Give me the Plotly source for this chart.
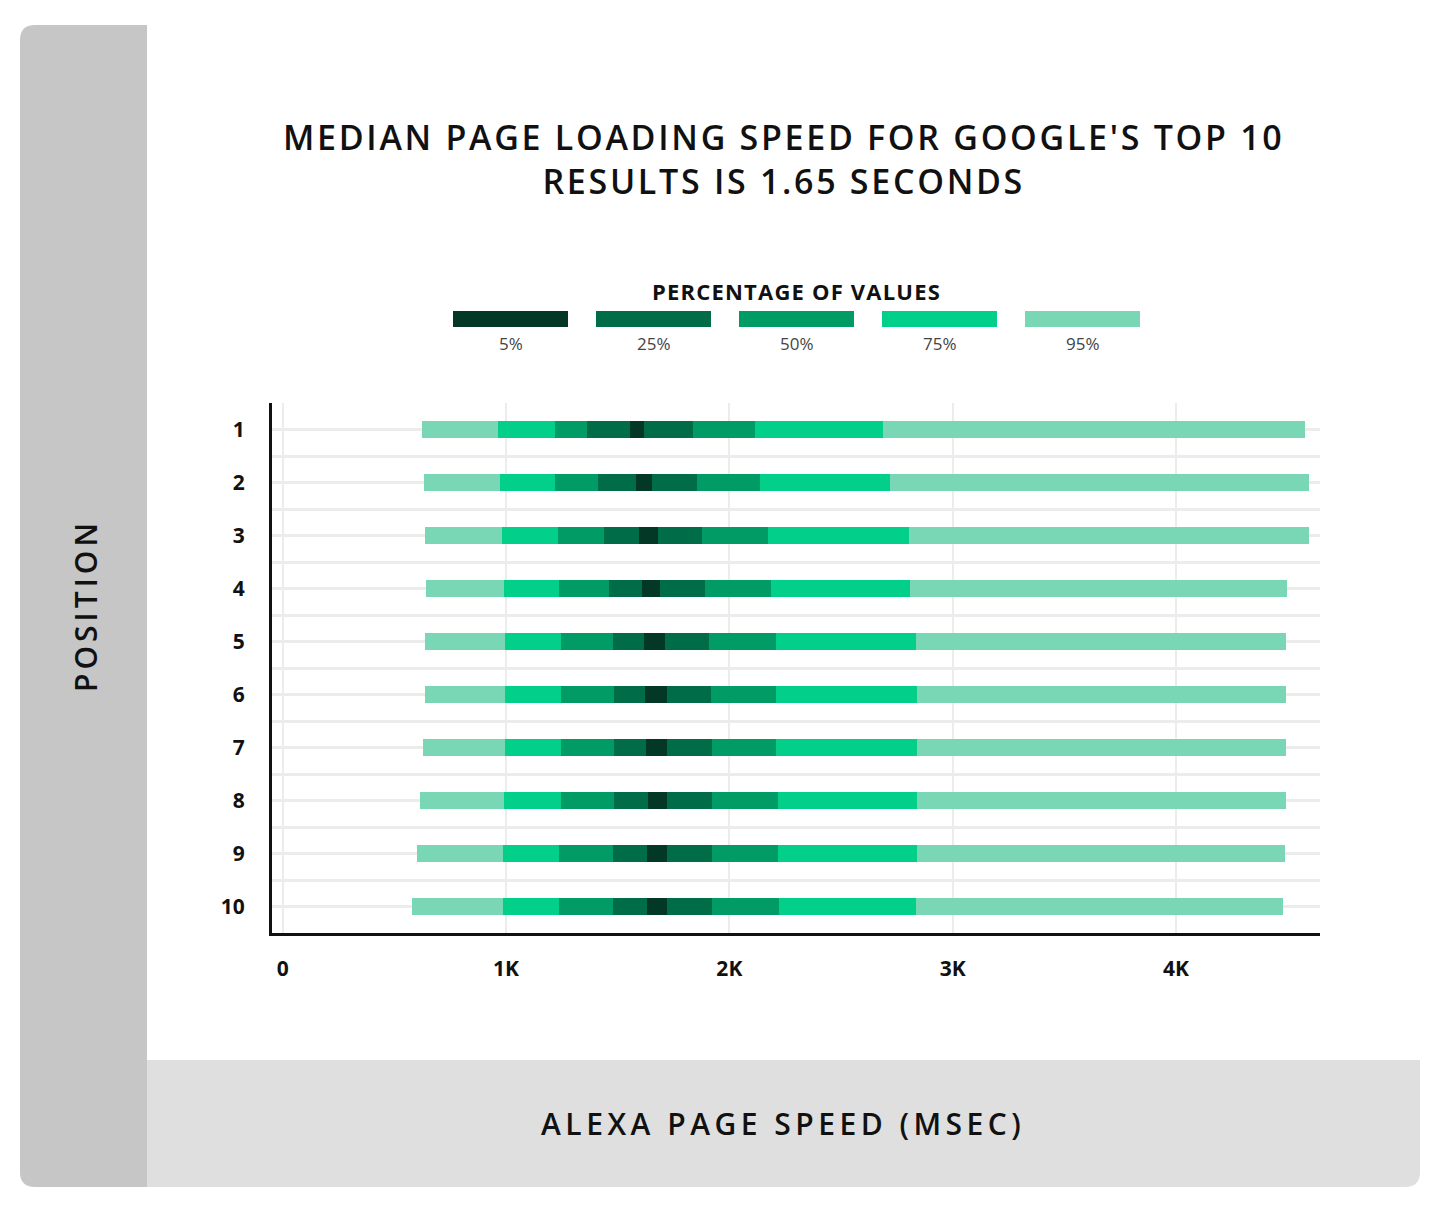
import plotly.graph_objects as go
import numpy as np

# page loading speed percentiles (msec) per Google position
positions = [1, 2, 3, 4, 5, 6, 7, 8, 9, 10]
p95_lo = [625, 633, 639, 642, 639, 636, 630, 615, 603, 580]
p75_lo = [964, 972, 981, 991, 997, 997, 994, 991, 988, 988]
p50_lo = [1218, 1221, 1233, 1236, 1245, 1245, 1245, 1245, 1239, 1236]
p25_lo = [1364, 1412, 1439, 1463, 1481, 1484, 1484, 1484, 1481, 1481]
p5_lo = [1554, 1581, 1594, 1608, 1619, 1624, 1628, 1635, 1631, 1631]
p5_hi = [1618, 1655, 1679, 1691, 1713, 1721, 1722, 1722, 1722, 1722]
p25_hi = [1839, 1854, 1878, 1891, 1909, 1918, 1921, 1921, 1921, 1921]
p50_hi = [2113, 2137, 2175, 2187, 2210, 2210, 2210, 2219, 2219, 2223]
p75_hi = [2688, 2721, 2805, 2809, 2836, 2842, 2842, 2842, 2842, 2836]
p95_hi = [4578, 4596, 4596, 4497, 4493, 4493, 4493, 4492, 4490, 4480]

band_names = ['95%', '75%', '50%', '25%', '5%']
band_colors = ['#7ad7b5', '#02d08a', '#019c66', '#006d48', '#033826']
x_tickvals = [0, 1000, 2000, 3000, 4000]
x_ticktext = ['0', '1K', '2K', '3K', '4K']

OFF = 8  # page body margin
W, H = 1440, 1198
L, R, T, B = 272 - OFF, 1320 - OFF, 403 - OFF, 933 - OFF  # plot area in figure pixels


def px(x):
    # screen pixel -> paper x
    return (x - OFF - L) / (R - L)


def py(y):
    return (B - (y - OFF)) / (B - T)


def spaced(text, sp):
    return f'<span style="letter-spacing:{sp}px">{text}</span>'


fig = go.Figure()

bands = [(p95_lo, p95_hi), (p75_lo, p75_hi), (p50_lo, p50_hi), (p25_lo, p25_hi), (p5_lo, p5_hi)]
for (lo, hi), name, col in zip(bands, band_names, band_colors):
    lo = np.array(lo)
    hi = np.array(hi)
    fig.add_trace(go.Bar(y=positions, x=hi - lo, base=lo, orientation='h', width=0.31,
                         marker=dict(color=col, line=dict(width=0)), name=name, showlegend=False))

# card background panels
shapes = []
r = 15
left_path = (f"M {px(147)},{py(25)} L {px(20 + r)},{py(25)} Q {px(20)},{py(25)} {px(20)},{py(25 + r)} "
             f"L {px(20)},{py(1187 - r)} Q {px(20)},{py(1187)} {px(20 + r)},{py(1187)} L {px(147)},{py(1187)} Z")
shapes.append(dict(type='path', xref='paper', yref='paper', path=left_path,
                   fillcolor='#c6c6c6', line=dict(width=0), layer='below'))
bottom_path = (f"M {px(147)},{py(1060)} L {px(1420)},{py(1060)} L {px(1420)},{py(1187 - r)} "
               f"Q {px(1420)},{py(1187)} {px(1420 - r)},{py(1187)} L {px(147)},{py(1187)} Z")
shapes.append(dict(type='path', xref='paper', yref='paper', path=bottom_path,
                   fillcolor='#dfdfdf', line=dict(width=0), layer='below'))

# legend swatches
annotations = []
leg_x0 = [453, 596, 739, 882, 1025]
for x0, name, col in zip(leg_x0, band_names[::-1], band_colors[::-1]):
    shapes.append(dict(type='rect', xref='paper', yref='paper', x0=px(x0), x1=px(x0 + 115),
                       y0=py(327), y1=py(311), fillcolor=col, line=dict(width=0)))
    annotations.append(dict(text=name, xref='paper', yref='paper', x=px(x0 + 57.5), y=py(344),
                            showarrow=False, xanchor='center', yanchor='middle',
                            font=dict(family='Open Sans', size=17, color='#444')))

annotations.append(dict(text=spaced('PERCENTAGE OF VALUES', 1.2), xref='paper', yref='paper',
                        x=px(796), y=py(291), showarrow=False, xanchor='center', yanchor='middle',
                        font=dict(family='Open Sans', size=22, color='#111', weight=700)))
annotations.append(dict(text=spaced("MEDIAN PAGE LOADING SPEED FOR GOOGLE'S TOP 10", 2.7) + '<br>'
                        + spaced('RESULTS IS 1.65 SECONDS', 2.7),
                        xref='paper', yref='paper', x=px(783), y=py(159), showarrow=False,
                        xanchor='center', yanchor='middle', align='center',
                        font=dict(family='Open Sans', size=34, color='#111', weight=600)))
annotations.append(dict(text=spaced('POSITION', 4), xref='paper', yref='paper', x=px(85), y=py(606),
                        textangle=-90, showarrow=False, xanchor='center', yanchor='middle',
                        font=dict(family='Open Sans', size=30, color='#111', weight=600)))
annotations.append(dict(text=spaced('ALEXA PAGE SPEED (MSEC)', 4.5), xref='paper', yref='paper',
                        x=px(783), y=py(1123), showarrow=False, xanchor='center', yanchor='middle',
                        font=dict(family='Open Sans', size=30, color='#111', weight=600)))

fig.update_layout(
    width=W, height=H, autosize=False,
    margin=dict(l=L, r=W - R, t=T, b=H - B),
    paper_bgcolor='white', plot_bgcolor='white',
    barmode='overlay', bargap=0,
    shapes=shapes, annotations=annotations,
    showlegend=False,
)
fig.update_xaxes(range=[-48, 4645], tickvals=x_tickvals, ticktext=x_ticktext,
                 showgrid=True, gridcolor='#ececec', gridwidth=2, zeroline=False,
                 showline=True, linecolor='#111', linewidth=3, ticks='', ticklabelstandoff=15,
                 tickfont=dict(family='Open Sans', size=21, color='#111', weight='bold'))
fig.update_yaxes(range=[10.5, 0.5], tickvals=positions, ticktext=[str(p) for p in positions],
                 showgrid=True, gridcolor='#ececec', gridwidth=3, zeroline=False,
                 minor=dict(tick0=0.5, dtick=1, showgrid=True, gridcolor='#ececec', gridwidth=3),
                 showline=True, linecolor='#111', linewidth=3, ticks='', ticklabelstandoff=20,
                 tickfont=dict(family='Open Sans', size=21, color='#111', weight='bold'))

fig.write_html("out.html")
